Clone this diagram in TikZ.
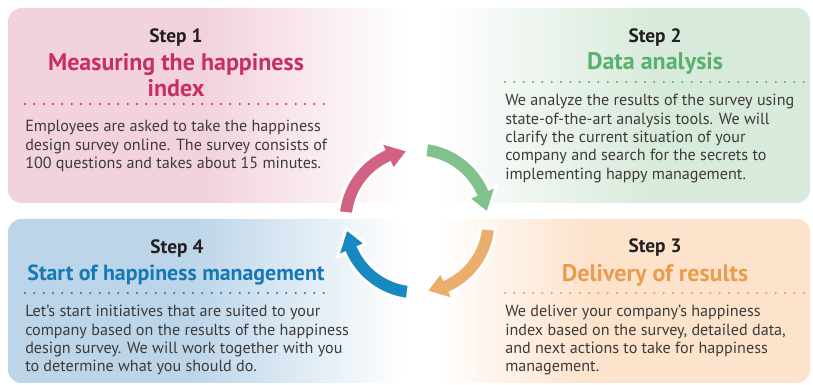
\documentclass[tikz,border=0pt]{standalone}
\usepackage{fontspec}
\setmainfont{PT Sans}
\definecolor{pinkbg}{RGB}{242,211,219}
\definecolor{greenbg}{RGB}{216,234,219}
\definecolor{orangebg}{RGB}{253,226,204}
\definecolor{bluebg}{RGB}{188,213,233}
\definecolor{pinktitle}{RGB}{201,45,103}
\definecolor{greentitle}{RGB}{88,178,108}
\definecolor{orangetitle}{RGB}{232,158,78}
\definecolor{bluetitle}{RGB}{22,120,180}
\definecolor{pinkarrow}{RGB}{210,98,132}
\definecolor{greenarrow}{RGB}{128,193,140}
\definecolor{orangearrow}{RGB}{236,174,108}
\definecolor{bluearrow}{RGB}{22,138,192}
\definecolor{stepblack}{RGB}{35,31,32}
\definecolor{bodygray}{RGB}{62,58,57}
\pgfdeclarehorizontalshading{pinkfade}{100bp}{color(0bp)=(pinkbg); color(50bp)=(pinkbg); color(75bp)=(white); color(100bp)=(white)}
\pgfdeclarehorizontalshading{bluefade}{100bp}{color(0bp)=(bluebg); color(48bp)=(bluebg); color(75bp)=(white); color(100bp)=(white)}
\pgfdeclarehorizontalshading{greenfade}{100bp}{color(0bp)=(white); color(27bp)=(white); color(55bp)=(greenbg); color(100bp)=(greenbg)}
\pgfdeclarehorizontalshading{orangefade}{100bp}{color(0bp)=(white); color(27bp)=(white); color(47bp)=(orangebg); color(100bp)=(orangebg)}
% one bent arrow of the cycle: colour, tail angle, tip angle
\newcommand{\cyclearrow}[3]{%
  \pgfmathsetmacro{\headbase}{#3+18}
  \filldraw[draw=white, line width=2.2pt, fill=#1]
    (#2:79) arc[start angle=#2, end angle=\headbase, radius=79]
    -- (\headbase:87) -- (#3:71) -- (\headbase:56) -- (\headbase:64)
    arc[start angle=\headbase, end angle=#2, radius=64] -- cycle;}
\begin{document}
\begin{tikzpicture}[x=0.75pt,y=0.75pt,
  steplabel/.style={font=\bfseries\fontsize{14.5}{17}\selectfont, text=stepblack, inner sep=0pt},
  titlelabel/.style={font=\bfseries\fontsize{18}{19}\selectfont, inner sep=0pt, align=center},
  bodytext/.style={font=\fontsize{12.1}{13.75}\selectfont, text=bodygray, align=left, inner sep=0pt, anchor=north west},
  dotline/.style={line width=1.7pt, line cap=round, dash pattern=on 0pt off 7pt}]
\useasboundingbox (0,0) rectangle (813,385);
% panels
\shade[shading=pinkfade, rounded corners=10] (8,182) rectangle (405,377);
\shade[shading=greenfade, rounded corners=10] (420,182) rectangle (810,377);
\shade[shading=bluefade, rounded corners=10] (8,2) rectangle (405,166);
\shade[shading=orangefade, rounded corners=10] (420,2) rectangle (810,166);
% step 1
\node[steplabel] (step1) at (176,347) {Step 1};
\node[titlelabel, text=pinktitle] (title1) at (176,310) {Measuring the happiness\\index};
\coordinate (dots1a) at (25,281);
\coordinate (dots1b) at (325,281);
\draw[dotline, pinktitle] (dots1a) -- (dots1b);
\node[bodytext] (body1) at (25,265) {Employees are asked to take the happiness\\design survey online. The survey consists of\\100 questions and takes about 15 minutes.};
% step 2
\node[steplabel] (step2) at (655,347) {Step 2};
\node[titlelabel, text=greentitle] (title2) at (655,322) {Data analysis};
\coordinate (dots2a) at (505,303);
\coordinate (dots2b) at (805,303);
\draw[dotline, greentitle] (dots2a) -- (dots2b);
\node[bodytext] (body2) at (505,291) {We analyze the results of the survey using\\state-of-the-art analysis tools. We will\\clarify the current situation of your\\company and search for the secrets to\\implementing happy management.};
% step 3
\node[steplabel] (step3) at (655,137) {Step 3};
\node[titlelabel, text=orangetitle] (title3) at (655,110) {Delivery of results};
\coordinate (dots3a) at (505,92);
\coordinate (dots3b) at (805,92);
\draw[dotline, orangetitle] (dots3a) -- (dots3b);
\node[bodytext] (body3) at (505,80) {We deliver your company’s happiness\\index based on the survey, detailed data,\\and next actions to take for happiness\\management.};
% step 4
\node[steplabel] (step4) at (177,136) {Step 4};
\node[titlelabel, text=bluetitle, font=\bfseries\fontsize{16.4}{19}\selectfont] (title4) at (176,110) {Start of happiness management};
\coordinate (dots4a) at (25,92);
\coordinate (dots4b) at (325,92);
\draw[dotline, bluetitle] (dots4a) -- (dots4b);
\node[bodytext] (body4) at (25,80) {Let’s start initiatives that are suited to your\\company based on the results of the happiness\\design survey. We will work together with you\\to determine what you should do.};
% cycle
\begin{scope}[shift={(417,164)}]
\cyclearrow{pinkarrow}{174}{97}
\cyclearrow{greenarrow}{83}{6}
\cyclearrow{orangearrow}{-6}{-83}
\cyclearrow{bluearrow}{-97}{-174}
\end{scope}
\end{tikzpicture}
\end{document}
